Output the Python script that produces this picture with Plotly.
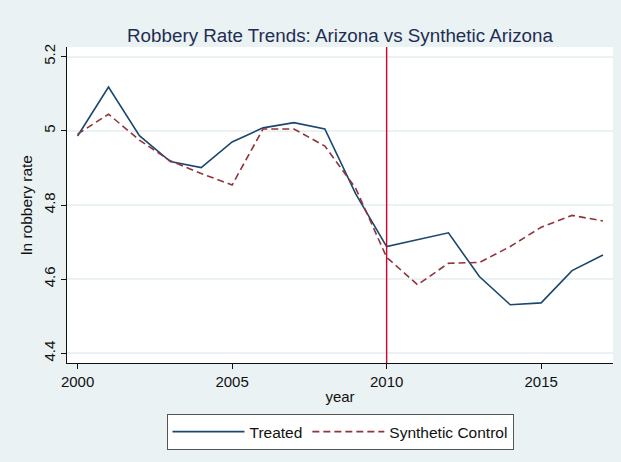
import plotly.graph_objects as go

# Annual values, 2000-2017
years = list(range(2000, 2018))
treated = [4.986, 5.118, 4.987, 4.917, 4.901, 4.970, 5.008, 5.022, 5.005, 4.830,
           4.688, 4.706, 4.725, 4.607, 4.531, 4.536, 4.623, 4.665]
synthetic = [4.991, 5.045, 4.975, 4.919, 4.885, 4.854, 5.005, 5.005, 4.959, 4.845,
             4.659, 4.585, 4.643, 4.645, 4.688, 4.740, 4.772, 4.757]

x_ticks = [2000, 2005, 2010, 2015]
y_ticks = [4.4, 4.6, 4.8, 5.0, 5.2]
y_tick_text = ["4.4", "4.6", "4.8", "5", "5.2"]
treatment_year = 2010

BG = "#EAF2F3"
FONT = "Liberation Sans, Arial, sans-serif"

fig = go.Figure()
fig.add_trace(go.Scatter(x=years, y=treated, mode="lines", name="Treated",
                         line=dict(color="#1a476f", width=1.6)))
fig.add_trace(go.Scatter(x=years, y=synthetic, mode="lines", name="Synthetic Control",
                         line=dict(color="#90353b", width=1.6, dash="7px,4px")))

fig.add_shape(type="line", xref="x", yref="paper", x0=treatment_year, x1=treatment_year,
              y0=0, y1=1, line=dict(color="#d4002a", width=1.4), layer="above")

fig.update_layout(
    width=621, height=462,
    margin=dict(l=67, r=8, t=47, b=99),
    paper_bgcolor=BG, plot_bgcolor="white",
    font=dict(family=FONT, size=15, color="#111111"),
    title=dict(text="Robbery Rate Trends: Arizona vs Synthetic Arizona",
               x=0.5, xref="paper", xanchor="center",
               y=1 - 35 / 462, yref="container", yanchor="middle",
               font=dict(size=18.8, color="#1e2d52", family=FONT)),
    showlegend=True,
    legend=dict(orientation="h", x=0.5, xref="paper", xanchor="center",
                y=1 - 414 / 462, yref="container", yanchor="top",
                bgcolor="white", bordercolor="#555555", borderwidth=1,
                font=dict(size=15.5, color="#111111"),
                itemwidth=72, tracegroupgap=0),
)

fig.update_xaxes(range=[1999.657, 2017.325], tickvals=x_ticks, showgrid=False,
                 showline=True, linecolor="#111111", linewidth=1.3,
                 ticks="outside", ticklen=5, tickcolor="#111111",
                 title=dict(text="year", standoff=2, font=dict(size=15)),
                 zeroline=False)
fig.update_yaxes(range=[4.374, 5.226], tickvals=y_ticks, ticktext=y_tick_text,
                 tickangle=-90, showgrid=True, gridcolor=BG, gridwidth=1.5,
                 showline=True, linecolor="#111111", linewidth=1.3,
                 ticks="outside", ticklen=5, tickcolor="#111111",
                 title=dict(text="ln robbery rate", standoff=4, font=dict(size=15.5)),
                 zeroline=False)

fig.write_html("out.html")
